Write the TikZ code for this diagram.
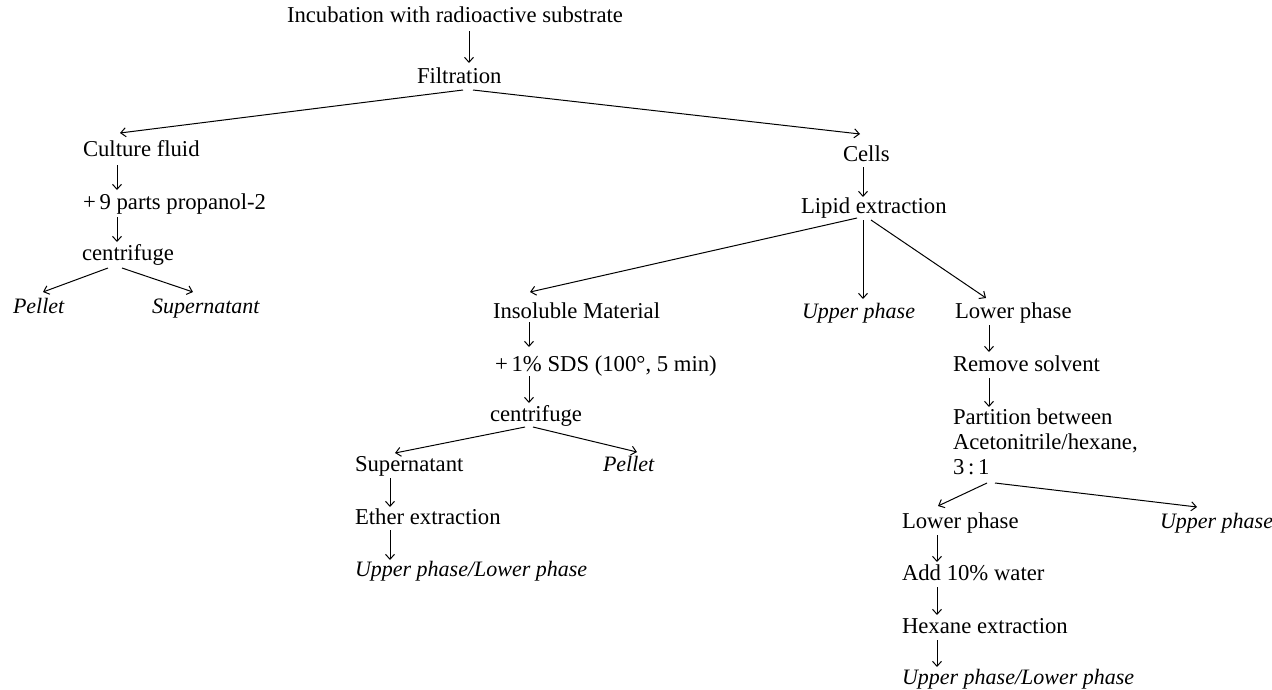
\documentclass[tikz,border=0pt]{standalone}
\usepackage{fontspec}
\setmainfont{Liberation Serif}
\usetikzlibrary{arrows.meta}
\begin{document}
\begin{tikzpicture}[x=1pt,y=-1pt,
  lbl/.style={anchor=base west,inner sep=0pt,outer sep=0pt,font=\fontsize{22.7}{25}\selectfont},
  ilbl/.style={lbl,font=\fontsize{22}{25}\selectfont\itshape},
  arr/.style={line width=1pt,-{Straight Barb[length=5pt,width=9pt]}}]
\useasboundingbox (0,0) rectangle (1272,689);
% nodes
\node[lbl] (inc) at (287,22) {Incubation with radioactive substrate};
\node[lbl] (filt) at (417,83) {Filtration};
\node[lbl] (cf) at (83,156) {Culture fluid};
\node[lbl] (pp) at (83,209) {+\,9 parts propanol-2};
\node[lbl] (cen1) at (82,260) {centrifuge};
\node[ilbl] (pel1) at (13,313) {Pellet};
\node[ilbl] (sup1) at (152,313) {Supernatant};
\node[lbl] (cells) at (843,161) {Cells};
\node[lbl] (lipid) at (801,213) {Lipid extraction};
\node[lbl] (ins) at (493,318) {Insoluble Material};
\node[ilbl] (up1) at (802,318) {Upper phase};
\node[lbl] (lp1) at (955,318) {Lower phase};
\node[lbl] (sds) at (495,371) {+\,1\% SDS (100°, 5 min)};
\node[lbl] (cen2) at (490,421) {centrifuge};
\node[lbl] (sup2) at (355,471) {Supernatant};
\node[ilbl] (pel2) at (603,471) {Pellet};
\node[lbl] (eth) at (355,524) {Ether extraction};
\node[ilbl] (ul1) at (355,576) {Upper phase/Lower phase};
\node[lbl] (rs) at (953,371) {Remove solvent};
\node[lbl,align=left] (part) at (953,474) {Partition between\\Acetonitrile/hexane,\\3\,:\,1};
\node[lbl] (lp2) at (902,528) {Lower phase};
\node[ilbl] (up2) at (1160,528) {Upper phase};
\node[lbl] (add) at (902,580) {Add 10\% water};
\node[lbl] (hex) at (902,633) {Hexane extraction};
\node[ilbl] (ul2) at (902,684) {Upper phase/Lower phase};
% connectors
\draw[arr] ([shift={(182,9)}]inc.base west) -- ([shift={(52,-20)}]filt.base west);
\draw[arr] ([shift={(46,7)}]filt.base west) -- ([shift={(37,-23)}]cf.base west);
\draw[arr] ([shift={(56,7)}]filt.base west) -- ([shift={(17,-27)}]cells.base west);
\draw[arr] ([shift={(34,9)}]cf.base west) -- ([shift={(34,-19)}]pp.base west);
\draw[arr] ([shift={(34,8)}]pp.base west) -- ([shift={(35,-18)}]cen1.base west);
\draw[arr] ([shift={(26,8)}]cen1.base west) -- ([shift={(30,-21)}]pel1.base west);
\draw[arr] ([shift={(40,8)}]cen1.base west) -- ([shift={(41,-21)}]sup1.base west);
\draw[arr] ([shift={(20,6)}]cells.base west) -- ([shift={(62,-16)}]lipid.base west);
\draw[arr] ([shift={(56,5)}]lipid.base west) -- ([shift={(37,-26)}]ins.base west);
\draw[arr] ([shift={(62,7)}]lipid.base west) -- ([shift={(61,-19)}]up1.base west);
\draw[arr] ([shift={(70,7)}]lipid.base west) -- ([shift={(31,-20)}]lp1.base west);
\draw[arr] ([shift={(36,4)}]ins.base west) -- ([shift={(34,-24)}]sds.base west);
\draw[arr] ([shift={(34,5)}]sds.base west) -- ([shift={(39,-18)}]cen2.base west);
\draw[arr] ([shift={(35,6)}]cen2.base west) -- ([shift={(40,-18)}]sup2.base west);
\draw[arr] ([shift={(43,6)}]cen2.base west) -- ([shift={(34,-19)}]pel2.base west);
\draw[arr] ([shift={(35,7)}]sup2.base west) -- ([shift={(35,-17)}]eth.base west);
\draw[arr] ([shift={(35,6)}]eth.base west) -- ([shift={(35,-16)}]ul1.base west);
\draw[arr] ([shift={(34,7)}]lp1.base west) -- ([shift={(36,-19)}]rs.base west);
\draw[arr] ([shift={(36,7)}]rs.base west) -- ([shift={(36,-67)}]part.base west);
\draw[arr] ([shift={(34,9)}]part.base west) -- ([shift={(36,-22)}]lp2.base west);
\draw[arr] ([shift={(42,9)}]part.base west) -- ([shift={(37,-21)}]up2.base west);
\draw[arr] ([shift={(35,7)}]lp2.base west) -- ([shift={(35,-18)}]add.base west);
\draw[arr] ([shift={(35,7)}]add.base west) -- ([shift={(35,-18)}]hex.base west);
\draw[arr] ([shift={(35,7)}]hex.base west) -- ([shift={(35,-17)}]ul2.base west);
\end{tikzpicture}
\end{document}
